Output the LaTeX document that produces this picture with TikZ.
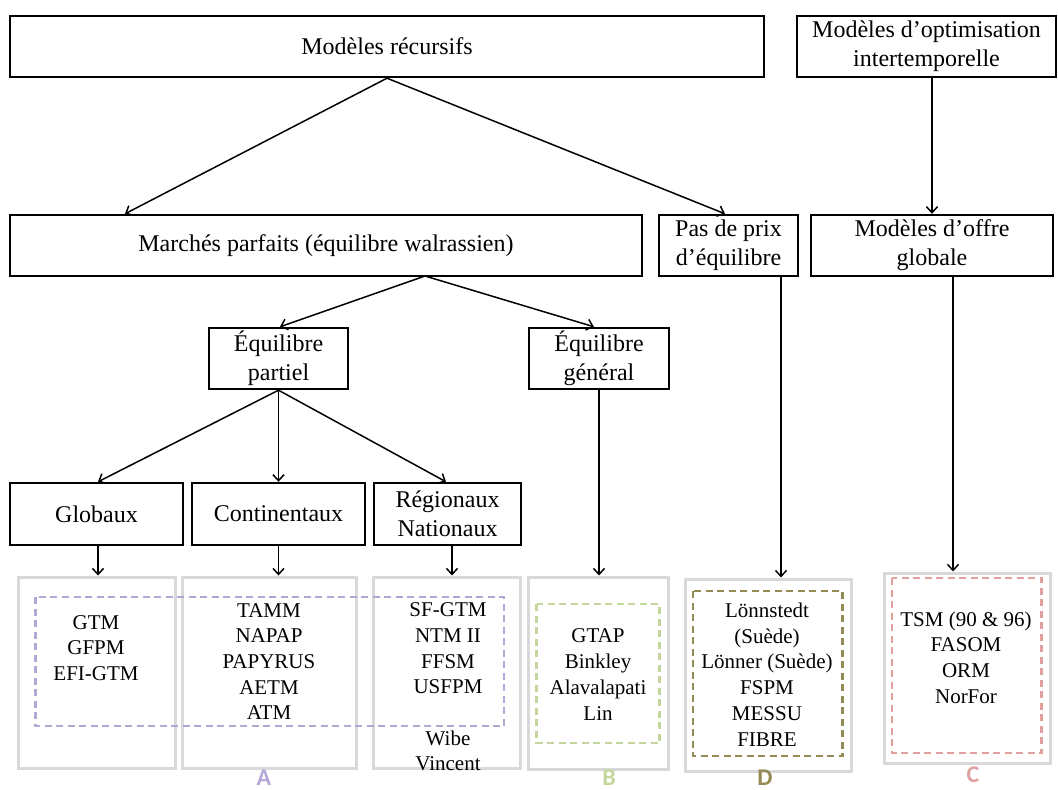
\documentclass[tikz,border=0pt]{standalone}
\usepackage{fontspec}
\setmainfont{Liberation Serif}
\newfontfamily\lblfont{Carlito}[BoldFont={Carlito Bold}]
\usetikzlibrary{arrows.meta,calc}
\definecolor{grayb}{HTML}{D9D9D9}
\definecolor{purpA}{HTML}{B4A7D6}
\definecolor{greenB}{HTML}{C3D69B}
\definecolor{oliveD}{HTML}{948A54}
\definecolor{redC}{HTML}{E0A0A0}
\begin{document}
\begin{tikzpicture}[x=1pt,y=-1pt,
  bbox/.style={draw=black,line width=2.4pt,rectangle,inner sep=0pt,align=center,
    font=\fontsize{24}{29}\selectfont},
  gbox/.style={draw=grayb,line width=3pt,rectangle,inner sep=0pt},
  dbox/.style={line width=2.6pt,dash pattern=on 7pt off 4.5pt},
  lst/.style={align=center,inner sep=0pt,font=\fontsize{21}{25.7}\selectfont},
  lbl/.style={inner sep=0pt,font=\lblfont\fontsize{24}{26}\selectfont\bfseries},
  arr/.style={line width=1.5pt,-{Straight Barb[length=6pt,width=11pt,line width=1.5pt]}}]
\useasboundingbox (0,0) rectangle (1058,790);
% black boxes
\node[bbox,minimum width=754pt,minimum height=61pt] (rec) at (387,46.5) {Modèles récursifs};
\node[bbox,minimum width=259pt,minimum height=61pt] (opt) at (926.5,46.5) {Modèles d’optimisation\\intertemporelle};
\node[bbox,minimum width=632pt,minimum height=61pt] (mar) at (326,245.5) {Marchés parfaits (équilibre walrassien)};
\node[bbox,minimum width=139pt,minimum height=61pt] (pas) at (728.5,245.5) {Pas de prix\\d’équilibre};
\node[bbox,minimum width=242pt,minimum height=61pt] (off) at (932,245.5) {Modèles d’offre\\globale};
\node[bbox,minimum width=139pt,minimum height=61pt] (par) at (278.5,358.5) {Équilibre\\partiel};
\node[bbox,minimum width=140pt,minimum height=61pt] (gen) at (599,358.5) {Équilibre\\général};
\node[bbox,minimum width=173pt,minimum height=62pt] (glo) at (96.5,514) {Globaux};
\node[bbox,minimum width=173pt,minimum height=62pt] (con) at (278.5,514) {Continentaux};
\node[bbox,minimum width=147pt,minimum height=62pt] (reg) at (447.5,514) {Régionaux\\Nationaux};
% gray boxes
\node[gbox,minimum width=157pt,minimum height=191pt] (g1) at (97.3,672.5) {};
\node[gbox,minimum width=174pt,minimum height=191pt] (g2) at (269,672.5) {};
\node[gbox,minimum width=147pt,minimum height=191pt] (g3) at (446.5,672.5) {};
\node[gbox,minimum width=140pt,minimum height=192pt] (g4) at (598.8,673) {};
\node[gbox,minimum width=166pt,minimum height=192pt] (g5) at (768,675) {};
\node[gbox,minimum width=166pt,minimum height=190pt] (g6) at (967,668) {};
% dashed groups
\draw[dbox,draw=purpA] (35.5,597) rectangle (504,726);
\draw[dbox,draw=greenB] (536.5,604) rectangle (659.7,743);
\draw[dbox,draw=oliveD] (693,591) rectangle (842.6,756);
\draw[dbox,draw=redC] (892,578) rectangle (1041.6,753);
% lists
\node[lst] (t1) at (96,648) {GTM\\GFPM\\EFI-GTM};
\node[lst] (t2) at (269,661.5) {TAMM\\NAPAP\\PAPYRUS\\AETM\\ATM};
\node[lst] (t3) at (448,687) {SF-GTM\\NTM II\\FFSM\\USFPM\\[25.7pt]Wibe\\Vincent};
\node[lst] (t4) at (598,674.5) {GTAP\\Binkley\\Alavalapati\\Lin};
\node[lst] (t5) at (767,674.5) {Lönnstedt\\(Suède)\\Lönner (Suède)\\FSPM\\MESSU\\FIBRE};
\node[lst] (t6) at (966,657.5) {TSM (90 \& 96)\\FASOM\\ORM\\NorFor};
% labels
\node[lbl,text=purpA] (la) at (264,778) {A};
\node[lbl,text=greenB] (lb) at (609,778) {B};
\node[lbl,text=oliveD] (ld) at (765,778) {D};
\node[lbl,text=redC] (lc) at (973,775) {C};
% connectors
\draw[arr] (rec.south) -- ([xshift=-201pt]mar.north);
\draw[arr] (rec.south) -- ([xshift=-3.5pt]pas.north);
\draw[arr] (opt.south -| off.north) -- (off.north);
\coordinate (mb) at (425,276);
\draw[arr] (mb) -- ([xshift=1.5pt]par.north);
\draw[arr] (mb) -- ([xshift=-5pt]gen.north);
\draw[arr] (par.south) -- ([xshift=1.5pt]glo.north);
\draw[arr] (par.south) -- (con.north);
\draw[arr] (par.south) -- ([xshift=-1.5pt]reg.north);
\draw[arr] ([xshift=1.5pt]glo.south) -- ([xshift=1.5pt]glo.south |- g1.north);
\draw[arr] (con.south) -- (con.south |- g2.north);
\draw[arr] ([xshift=4.5pt]reg.south) -- ([xshift=4.5pt]reg.south |- g3.north);
\draw[arr] (gen.south) -- (gen.south |- g4.north);
\coordinate (pd) at (781,276);
\draw[arr] (pd) -- (pd |- g5.north);
\coordinate (od) at (953,276);
\draw[arr] (od) -- (od |- g6.north);
\end{tikzpicture}
\end{document}
